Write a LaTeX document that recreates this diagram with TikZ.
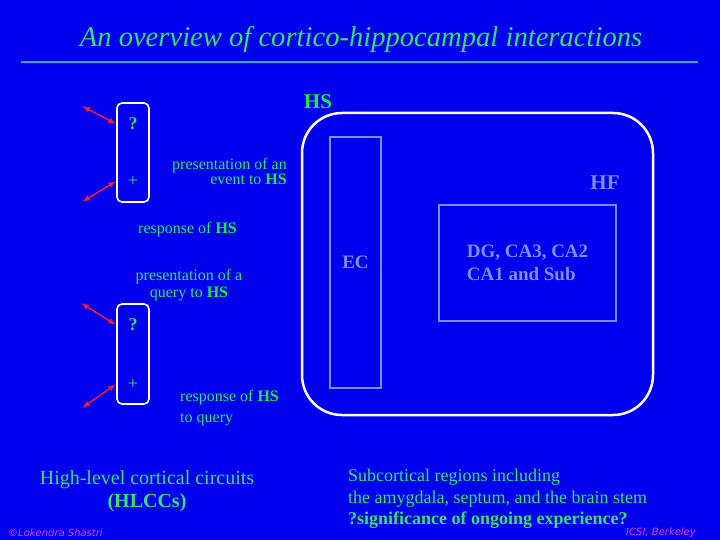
\documentclass[tikz,border=0pt]{standalone}
\usepackage{fontspec}
\setmainfont{Liberation Serif}
\newfontfamily\creditfont{DejaVu Sans}
\usepackage{tikz}
\usetikzlibrary{positioning,arrows.meta,calc}
\definecolor{slide}{HTML}{0000EE}
\definecolor{leaf}{HTML}{3CDF6C}
\definecolor{hsgreen}{HTML}{22E844}
\definecolor{rulecol}{HTML}{3AA8C8}
\definecolor{region}{HTML}{7E8EF2}
\definecolor{pointer}{HTML}{E8203A}
\definecolor{credit}{HTML}{E040D8}
\newcommand{\hsname}{\textcolor{hsgreen}{\textbf{HS}}}
\tikzset{
  txt/.style={text=leaf, inner sep=0pt, font=\fontsize{16}{16.5}\selectfont},
  slot/.style={draw=white, line width=1.6pt, rounded corners=5pt,
               minimum width=32pt, minimum height=99pt},
  sym/.style={text=leaf, inner sep=0pt, font=\fontsize{18}{18}\selectfont},
  ar/.style={{Latex[length=8pt,width=6pt]}-{Latex[length=8pt,width=6pt]},
             line width=1.5pt, color=pointer},
  area/.style={draw=region, line width=2pt, text=region,
               font=\bfseries\fontsize{19}{23}\selectfont},
  byline/.style={text=credit, inner sep=0pt,
                 font=\creditfont\itshape\fontsize{10}{10}\selectfont},
}

\begin{document}
\begin{tikzpicture}[x=1pt, y=-1pt,
  hsframe/.style={draw=white, line width=2.5pt, rounded corners=40pt},
]

\fill[slide] (0,0) rectangle (720,540);

\node[text=leaf, font=\itshape\fontsize{28.6}{28.6}\selectfont] (title) at (361,39)
  {An overview of cortico-hippocampal interactions};
\draw[rulecol, line width=2.5pt] (21,62) -- (698,62);

\node[hsframe, minimum width=351pt, minimum height=302pt] (hs) at (477.5,264) {};
\node[text=hsgreen, font=\bfseries\fontsize{21}{21}\selectfont] (hslab) at (318,102) {HS};
\node[area, draw=none, font=\bfseries\fontsize{21}{21}\selectfont] (hf) at (605,183) {HF};

\node[area, minimum width=51pt, minimum height=251pt] (ec) at (355.5,262.5) {EC};
\node[area, align=left, minimum width=177pt, minimum height=116pt] (core) at (527.5,263)
  {DG, CA3, CA2\\CA1 and Sub};

\node[slot] (evbox) at (133,152.5) {};
\node[sym, font=\bfseries\fontsize{18}{18}\selectfont] (evq) at (133,124) {?};
\node[sym] (evp) at (133,181) {+};
\coordinate (evqend) at (82,106);
\coordinate (evpend) at (82,202);
\draw[ar] (evqend) -- (evbox.west |- evq);
\draw[ar] (evpend) -- (evbox.west |- evp);

\node[slot, minimum height=100pt] (qbox) at (133,354) {};
\node[sym, font=\bfseries\fontsize{18}{18}\selectfont] (qq) at (133,325) {?};
\node[sym] (qp) at (133,384) {+};
\coordinate (qqend) at (81,303);
\coordinate (qpend) at (82,408);
\draw[ar] (qqend) -- (qbox.west |- qq);
\draw[ar] (qpend) -- (qbox.west |- qp);

\node[txt, align=right, anchor=east, font=\fontsize{16}{13}\selectfont] (evtxt) at (287,171)
  {presentation of an\\event to \hsname};
\node[txt, anchor=west] (resp) at (138,230) {response of \hsname};
\node[txt, align=center] (qtxt) at (189,285) {presentation of a\\query to \hsname};
\node[txt, align=left, anchor=west, font=\fontsize{16}{21}\selectfont] (qresp) at (180,408)
  {response of \hsname\\to query};

\node[txt, align=center, font=\fontsize{20}{23}\selectfont] (hlcc) at (147,491)
  {High-level cortical circuits\\\textbf{(HLCCs)}};
\node[txt, align=left, anchor=west, font=\fontsize{18}{21.5}\selectfont] (subc) at (348,499)
  {Subcortical regions including\\the amygdala, septum, and the brain stem\\\textbf{?significance of ongoing experience?}};

\node[byline, anchor=west] (author) at (8,533) {©Lokendra Shastri};
\node[byline, anchor=east] (inst) at (696,533) {ICSI, Berkeley};

\end{tikzpicture}
\end{document}
